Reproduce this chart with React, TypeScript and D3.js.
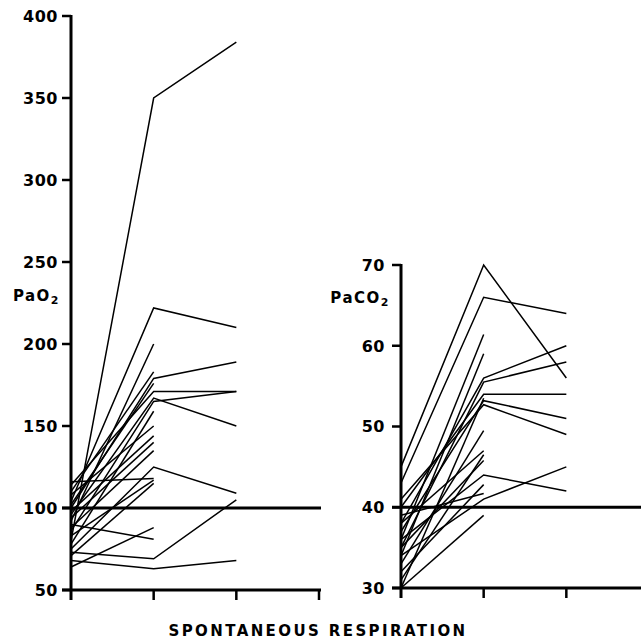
import React from "react";
import * as d3 from "d3";

// measurement times (4th slot only carries the axis tick)
const phases = ["t0", "t1", "t2", "t3"];

// PaO2 per patient: spontaneous, then later readings
const pao2Lines: number[][] = [
  [80, 350, 384],
  [104, 222, 210],
  [92, 200],
  [110, 183],
  [100, 179, 189],
  [114, 171, 171],
  [96, 167, 150],
  [86, 165, 171],
  [78, 159],
  [108, 150],
  [98, 144],
  [88, 135],
  [75, 125, 109],
  [116, 118],
  [83, 117],
  [71, 115],
  [102, 176],
  [94, 140],
  [90, 81],
  [64, 88],
  [73, 69, 105],
  [68, 63, 68],
];

// PaCO2 per patient
const paco2Lines: number[][] = [
  [45, 70, 56],
  [43, 66, 64],
  [36, 61.4],
  [34, 59],
  [38, 56, 60],
  [35, 55.5, 58],
  [40, 54, 54],
  [37, 53.2, 51],
  [41, 52.7, 49],
  [30, 53.5],
  [33, 49.5],
  [38, 47],
  [35, 45.8],
  [36, 44, 42],
  [32, 42.8],
  [39, 41.7],
  [34, 41, 45],
  [30, 39],
  [31, 46.5],
];

const pao2Ticks = [50, 100, 150, 200, 250, 300, 350, 400];
const paco2Ticks = [30, 40, 50, 60, 70];
const pao2Ref = 100;
const paco2Ref = 40;

const font = "'DejaVu Sans', sans-serif";

type PanelProps = {
  lines: number[][];
  ticks: number[];
  refValue: number;
  x: d3.ScalePoint<string>;
  y: d3.ScaleLinear<number, number>;
  axisEnd: number;
  labelMain: string;
  labelAt: number;
  labelOffset: number;
};

const Panel = ({ lines, ticks, refValue, x, y, axisEnd, labelMain, labelAt, labelOffset }: PanelProps) => {
  const x0 = x(phases[0]) as number;
  const [bottom, top] = y.domain();
  const yb = y(bottom);
  const line = d3
    .line<number>()
    .x((_, i) => x(phases[i]) as number)
    .y((d) => y(d));

  return (
    <g>
      {lines.map((d, i) => (
        <path key={i} d={line(d) || ""} fill="none" stroke="#000" strokeWidth={1.5} />
      ))}
      {/* reference line */}
      <line x1={x0 - 9} x2={axisEnd} y1={y(refValue)} y2={y(refValue)} stroke="#000" strokeWidth={3} />
      {/* y axis */}
      <line x1={x0} x2={x0} y1={y(top) - 1} y2={yb + 10} stroke="#000" strokeWidth={3} />
      {ticks.map((t) => (
        <g key={t}>
          <line x1={x0 - 9} x2={x0} y1={y(t)} y2={y(t)} stroke="#000" strokeWidth={2.5} />
          <text
            x={x0 - labelOffset}
            y={y(t)}
            dy="0.37em"
            textAnchor="end"
            fontFamily={font}
            fontWeight="bold"
            fontSize={16}
            letterSpacing={0.5}
          >
            {t}
          </text>
        </g>
      ))}
      {/* x axis */}
      <line x1={x0 - 9} x2={axisEnd} y1={yb} y2={yb} stroke="#000" strokeWidth={3} />
      {phases.slice(1).map((p) => (
        <line key={p} x1={x(p)} x2={x(p)} y1={yb} y2={yb + 10} stroke="#000" strokeWidth={2.5} />
      ))}
      <text
        x={x0 - 11}
        y={y(labelAt)}
        textAnchor="end"
        fontFamily={font}
        fontWeight="bold"
        fontSize={15}
        letterSpacing={1.5}
      >
        {labelMain}
        <tspan fontSize={11} dy={3}>2</tspan>
      </text>
    </g>
  );
};

const App = () => {
  const width = 641;
  const height = 642;

  const xLeft = d3.scalePoint<string>().domain(phases).range([71, 319]);
  const xRight = d3.scalePoint<string>().domain(phases).range([401, 649]);
  const yLeft = d3.scaleLinear().domain([50, 400]).range([590, 16]);
  const yRight = d3.scaleLinear().domain([30, 70]).range([588, 265]);

  return (
    <svg
      width={width}
      height={height}
      style={{ position: "absolute", left: 0, top: 0, background: "#fff" }}
    >
      <Panel
        lines={pao2Lines}
        ticks={pao2Ticks}
        refValue={pao2Ref}
        x={xLeft}
        y={yLeft}
        axisEnd={321}
        labelMain="PaO"
        labelAt={226}
        labelOffset={13}
      />
      <Panel
        lines={paco2Lines}
        ticks={paco2Ticks}
        refValue={paco2Ref}
        x={xRight}
        y={yRight}
        axisEnd={641}
        labelMain="PaCO"
        labelAt={65.3}
        labelOffset={16}
      />
      <text
        x={318}
        y={636}
        textAnchor="middle"
        fontFamily={font}
        fontWeight="bold"
        fontSize={15}
        letterSpacing={2.4}
      >
        SPONTANEOUS RESPIRATION
      </text>
    </svg>
  );
};

export default App;
